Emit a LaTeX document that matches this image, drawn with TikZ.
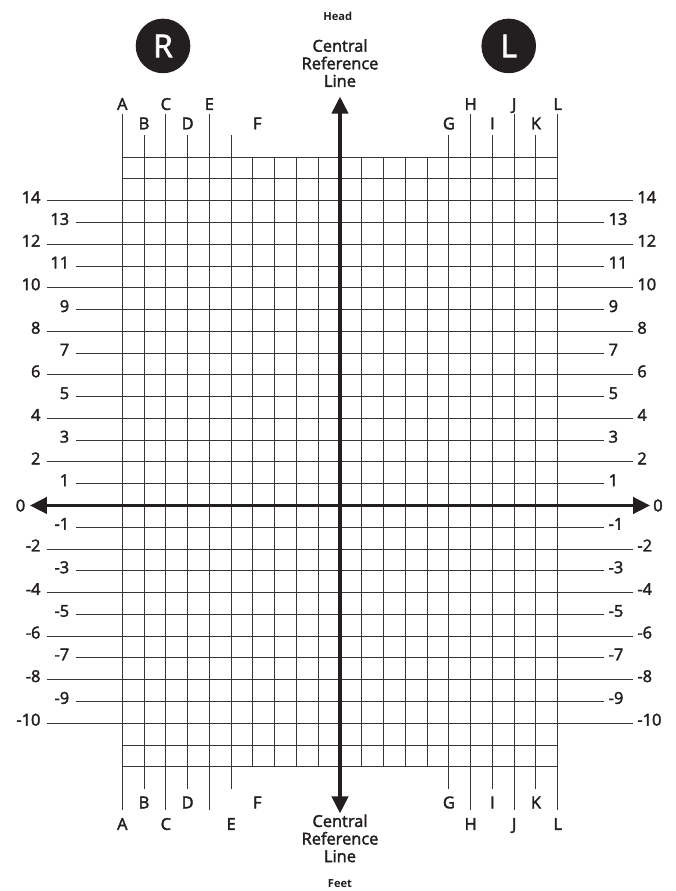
\documentclass[tikz,border=0pt]{standalone}
\usepackage{fontspec}
\setmainfont{Open Sans}
\newfontfamily\semifont{Open Sans}[FakeBold=2.2]
\usetikzlibrary{calc,arrows.meta}
\definecolor{ink}{HTML}{231F20}
\tikzset{
	gridline/.style={draw=ink!90,line width=0.8pt},
	axis/.style={draw=ink,line width=2.6pt,{Triangle[length=14.5pt,width=14pt]}-{Triangle[length=14.5pt,width=14pt]}},
	numlabel/.style={inner sep=0pt,text=ink,font=\semifont\fontsize{14}{16}\selectfont},
	letlabel/.style={inner sep=0pt,text=ink,font=\semifont\fontsize{14}{16}\selectfont,anchor=base},
	sidedisc/.style={circle,fill=ink,text=white,minimum size=1.638cm,inner sep=0pt,font=\semifont\fontsize{27}{30}\selectfont},
	reftext/.style={align=center,text=ink,inner sep=0pt,font=\semifont\fontsize{14}{15}\selectfont},
	endtext/.style={anchor=base,text=ink,inner sep=0pt,font=\bfseries\fontsize{9.5}{11}\selectfont}
}
\begin{document}
\begin{tikzpicture}[x=0.6531cm,y=0.6531cm]
		\useasboundingbox (-15.618,-17.708) rectangle (15.434,23.22);
		\foreach \c in {-4,-3,-2,-1,1,2,3,4} \draw[gridline] (\c,-12) -- (\c,16);
		\foreach \c in {5,7,9} {
			\draw[gridline] (-\c,-13) -- (-\c,17);
			\draw[gridline] (\c,-13) -- (\c,17);
		}
		\foreach \c in {6,8,10} {
			\draw[gridline] (-\c,-14) -- (-\c,18);
			\draw[gridline] (\c,-14) -- (\c,18);
		}
		\foreach \r in {16,15,-11,-12} \draw[gridline] (-10,\r) -- (10,\r);
		\foreach \r in {2,4,...,14,-2,-4,...,-10} {
			\draw[gridline] (-13.45,\r) -- (13.45,\r);
			\node[numlabel,anchor=base east] (numL\r) at (-13.75,\r-0.11) {\r};
			\node[numlabel,anchor=base west] (numR\r) at (13.65,\r-0.11) {\r};
		}
		\foreach \r in {1,3,...,13,-1,-3,...,-9} {
			\draw[gridline] (-12.13,\r) -- (12.13,\r);
			\node[numlabel,anchor=base east] (numL\r) at (-12.43,\r-0.11) {\r};
			\node[numlabel,anchor=base west] (numR\r) at (12.33,\r-0.11) {\r};
		}
		\foreach \l/\x/\y in {A/-10/18.17,B/-9/17.28,C/-8/18.17,D/-7/17.28,E/-6/18.17,F/-3.8/17.28,G/5/17.28,H/6/18.17,I/7/17.28,J/8/18.17,K/9/17.28,L/10/18.17}
			\node[letlabel] (top\l) at (\x,\y) {\l};
		\foreach \l/\x/\y in {A/-10/-14.9,B/-9/-13.91,C/-8/-14.9,D/-7/-13.91,E/-5/-14.9,F/-3.8/-13.91,G/5/-13.91,H/6/-14.9,I/7/-13.91,J/8/-14.9,K/9/-13.91,L/10/-14.9}
			\node[letlabel] (bot\l) at (\x,\y) {\l};
		\coordinate (axisTop) at (0,18.78);
		\coordinate (axisBottom) at (0,-14.14);
		\coordinate (axisLeft) at (-14.24,0);
		\coordinate (axisRight) at (14.24,0);
		\draw[axis] (axisBottom) -- (axisTop);
		\draw[axis] (axisLeft) -- (axisRight);
		\node[numlabel,anchor=east] (zeroL) at (-14.45,0) {0};
		\node[numlabel,anchor=west] (zeroR) at (14.38,0) {0};
		\node[sidedisc] (discR) at (-8.13,21.11) {R};
		\node[sidedisc] (discL) at (7.75,21.11) {L};
		\node[endtext] (headText) at (-0.1,22.27) {Head};
		\node[reftext] (refTop) at (0,20.32) {Central\\Reference\\Line};
		\node[reftext] (refBottom) at (0,-15.29) {Central\\Reference\\Line};
		\node[endtext] (feetText) at (0,-17.54) {Feet};
	\end{tikzpicture}
\end{document}
